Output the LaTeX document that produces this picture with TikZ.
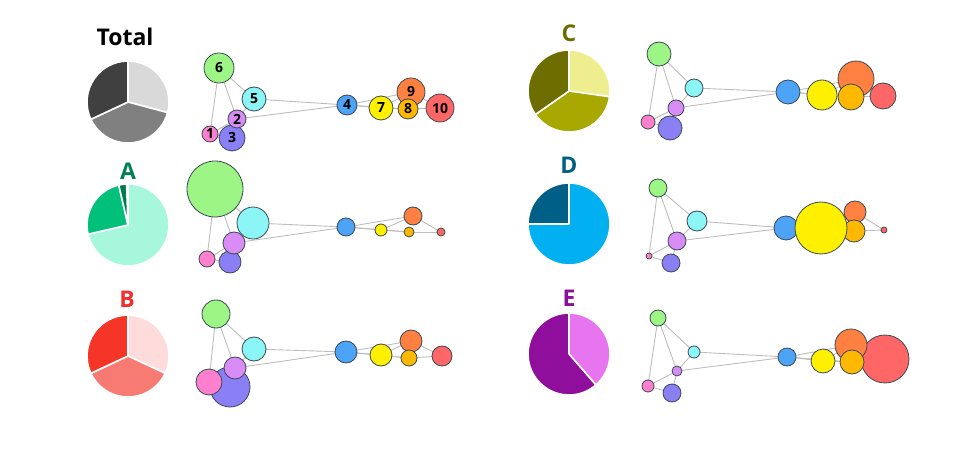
\documentclass[tikz,border=0pt]{standalone}
\usepackage{fontspec}
\setmainfont{Open Sans}
\usetikzlibrary{backgrounds}
\definecolor{c1}{HTML}{FF7FCF}\definecolor{c2}{HTML}{D98CF5}\definecolor{c3}{HTML}{8A7FF5}
\definecolor{c4}{HTML}{4DA3F5}\definecolor{c5}{HTML}{8CF5F5}\definecolor{c6}{HTML}{9CF584}
\definecolor{c7}{HTML}{FFF000}\definecolor{c8}{HTML}{FFB800}\definecolor{c9}{HTML}{FF8040}
\definecolor{c10}{HTML}{FF6666}\definecolor{bord}{HTML}{3A4A55}\definecolor{edge}{HTML}{BDBDBD}
\definecolor{tA}{HTML}{008055}\definecolor{tB}{HTML}{F03030}\definecolor{tC}{HTML}{6B6B00}
\definecolor{tD}{HTML}{00607F}\definecolor{tE}{HTML}{8B0E9B}
\tikzset{
  circ/.style={circle,draw=bord,line width=0.8pt,inner sep=0pt,font=\bfseries\fontsize{14}{14}\selectfont},
  ttl/.style={font=\bfseries\fontsize{23}{23}\selectfont},
  lnk/.style={draw=edge,line width=0.9pt},
  slice/.style={draw=white,line width=1.6pt,line join=round}
}
\newcommand\pslice[5]{\fill[#5,slice] (#1,#2) -- ++({-(#3)}:41) arc[start angle={-(#3)},end angle={-(#4)},radius=41] -- cycle;}
% #1 prefix, #2 list id/x/y/r/label
\newcommand\netw[2]{%
  \foreach \i/\x/\y/\r/\l in {#2}{\node[circ,fill=c\i,minimum size=2*\r] (#1-\i) at (\x,\y) {\l};}
  \begin{pgfonlayer}{background}
  \foreach \a/\b in {6/1,6/2,6/5,5/2,5/4,2/4,1/2,1/3,2/3,4/7,4/9,7/9,7/8,9/10,8/10,4/8}
    {\draw[lnk] (#1-\a.center) -- (#1-\b.center);}
  \end{pgfonlayer}}
\begin{document}
\begin{tikzpicture}[x=1pt,y=-1pt]
\useasboundingbox (0,0) rectangle (953,454);
% Total
\node[ttl] (tT) at (125,37) {Total};
\pslice{128}{102}{90}{-15}{black!15}\pslice{128}{102}{-15}{-155}{black!50}\pslice{128}{102}{-155}{-270}{black!75}
\netw{T}{3/232/138/13/3,1/210/134/8/1,2/237/119/9/2,5/254/99/12/5,6/219/68/15/6,4/347/105/10/4,10/440/108/14/10,9/411/92/14/9,7/381/108/12/7,8/408/109/10/8}
% A
\node[ttl,text=tA] (tA) at (128,171) {A};
\definecolor{pAm}{HTML}{00C07A}\definecolor{pAd}{HTML}{007A4D}\definecolor{pAl}{HTML}{A6F7DC}
\pslice{128}{225}{90}{-167}{pAl}\pslice{128}{225}{193}{103}{pAm}\pslice{128}{225}{103}{92}{pAd}
\netw{A}{3/230/262/11/,1/207/259/8/,2/234/243/11/,5/253/223/16/,6/215/189/28/,4/346/227/9/,10/441/232/4/,9/413/216/9/,7/381/230/6/,8/409/232/5/}
% B
\node[ttl,text=tB] (tB) at (127,299) {B};
\definecolor{pBl}{HTML}{FFDCDC}\definecolor{pBm}{HTML}{F77B73}\definecolor{pBd}{HTML}{F53527}
\pslice{128}{356}{90}{-25}{pBl}\pslice{128}{356}{-25}{-155}{pBm}\pslice{128}{356}{-155}{-270}{pBd}
\netw{B}{3/230/387/20/,1/209/382/13/,2/235/368/11/,5/254/349/12/,6/216/314/14/,4/346/352/11/,10/442/356/10/,9/411/341/11/,7/381/355/11/,8/409/358/8/}
% C
\node[ttl,text=tC] (tC) at (569,33) {C};
\definecolor{pCl}{HTML}{EEEE8F}\definecolor{pCm}{HTML}{A8A800}\definecolor{pCd}{HTML}{6E6E00}
\pslice{569}{91}{90}{-8}{pCl}\pslice{569}{91}{-8}{-145}{pCm}\pslice{569}{91}{-145}{-270}{pCd}
\netw{C}{3/670/128/12/,1/648/122/7/,2/676/108/8/,5/694/88/9/,6/659/54/12/,4/788/92/12/,10/883/96/13/,9/856/79/18/,7/822/95/15/,8/851/97/13/}
% D
\node[ttl,text=tD] (tD) at (569,165) {D};
\definecolor{pDl}{HTML}{00B0F0}\definecolor{pDd}{HTML}{005F87}
\pslice{569}{224}{90}{180}{pDd}\pslice{569}{224}{180}{450}{pDl}
\netw{D}{3/671/263/9/,1/649/256/3/,2/677/241/9/,5/697/221/10/,6/658/188/9/,4/786/228/12/,10/884/230/3/,9/855/212/11/,8/854/231/11/,7/821/228/26/}
% E
\node[ttl,text=tE] (tE) at (569,298) {E};
\definecolor{pEl}{HTML}{E875F0}\definecolor{pEd}{HTML}{8F0E9B}
\pslice{569}{354}{90}{-49}{pEl}\pslice{569}{354}{-49}{-270}{pEd}
\netw{E}{3/672/393/9/,1/648/386/6/,2/677/371/5/,5/694/352/6/,6/658/318/8/,4/787/357/9/,10/885/359/24/,9/851/345/16/,7/823/361/12/,8/852/362/12/}
\end{tikzpicture}
\end{document}
